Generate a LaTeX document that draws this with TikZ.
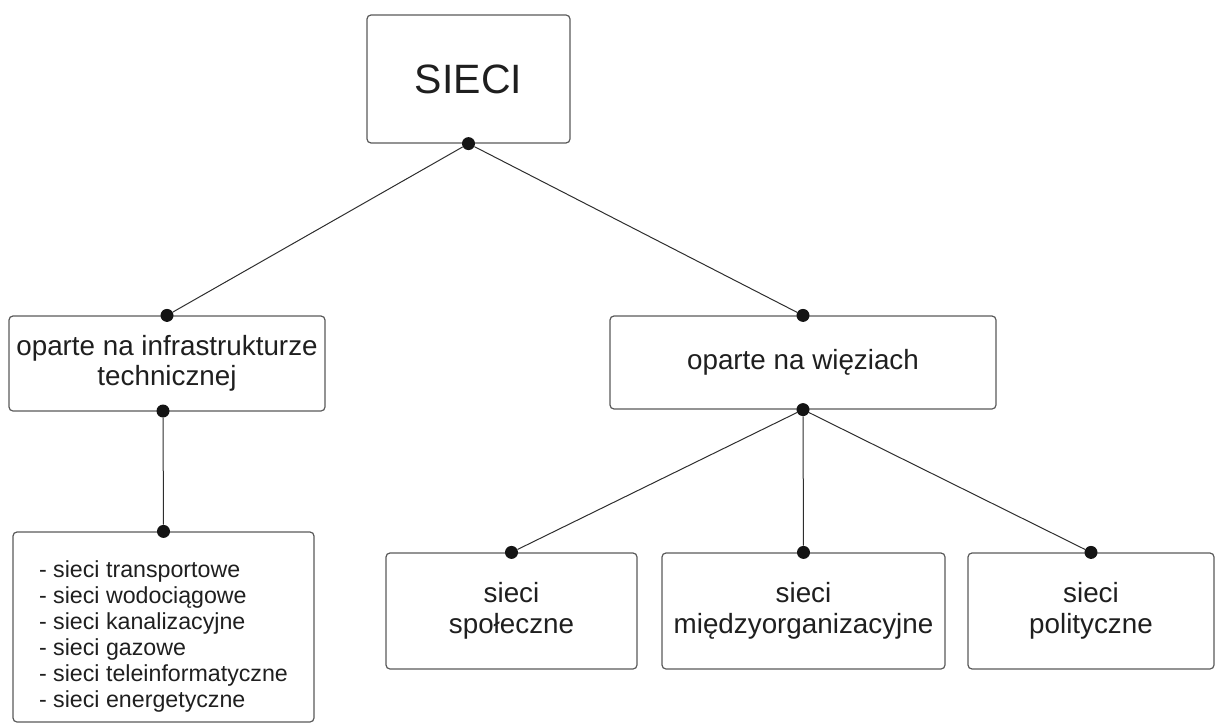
\documentclass[tikz,border=0pt]{standalone}
\usepackage{fontspec}
\setmainfont{Liberation Sans}
\definecolor{boxgray}{HTML}{5A5A5A}
\definecolor{linegray}{HTML}{2E2E2E}
\begin{document}
\begin{tikzpicture}[x=1pt,y=-1pt,
  box/.style={draw=boxgray, line width=1.2pt, rounded corners=4pt, fill=white,
              align=center, inner sep=0pt, text=black!88,
              font=\fontsize{27.8pt}{30.5pt}\selectfont},
  dot/.style={circle, fill=black!92, inner sep=0pt, minimum size=13pt},
  link/.style={draw=linegray, line width=1pt}]
\useasboundingbox (0,0) rectangle (1216,725);

% root
\node[box, minimum width=203pt, minimum height=128pt,
      font=\fontsize{41pt}{45pt}\selectfont] (root) at (468.5,79) {SIECI};

% second level
\node[box, minimum width=316pt, minimum height=95pt] (infra) at (167,363.5)
  {oparte na infrastrukturze\\technicznej};
\node[box, minimum width=386pt, minimum height=93pt] (wiez) at (803,362.5)
  {oparte na więziach};

% technical networks list: frame and its text
\node[box, minimum width=301pt, minimum height=190pt] (list) at (163.5,627) {};
\node[align=left, inner sep=0pt, text=black!88,
      font=\fontsize{23.2pt}{26pt}\selectfont] (listtext) at ([yshift=-9pt]list.center)
  {- sieci transportowe\\
   - sieci wodociągowe\\
   - sieci kanalizacyjne\\
   - sieci gazowe\\
   - sieci teleinformatyczne\\
   - sieci energetyczne};

% tie-based networks
\node[box, minimum width=251pt, minimum height=116pt] (spol) at (511.5,611)
  {sieci\\społeczne};
\node[box, minimum width=283pt, minimum height=116pt] (miedzy) at (803.5,611)
  {sieci\\międzyorganizacyjne};
\node[box, minimum width=246pt, minimum height=116pt] (polit) at (1091,611)
  {sieci\\polityczne};

% junction dots
\node[dot] (r0) at (root.south) {};
\node[dot] (i1) at (infra.north) {};
\node[dot] (i2) at (163,411) {};
\node[dot] (l1) at (list.north) {};
\node[dot] (w1) at (wiez.north) {};
\node[dot] (w2) at (wiez.south) {};
\node[dot] (s1) at (spol.north) {};
\node[dot] (m1) at (miedzy.north) {};
\node[dot] (p1) at (polit.north) {};

% connectors
\draw[link] (r0) -- (i1);
\draw[link] (r0) -- (w1);
\draw[link] (i2) -- (l1);
\draw[link] (w2) -- (s1);
\draw[link] (w2) -- (m1);
\draw[link] (w2) -- (p1);
\end{tikzpicture}
\end{document}
